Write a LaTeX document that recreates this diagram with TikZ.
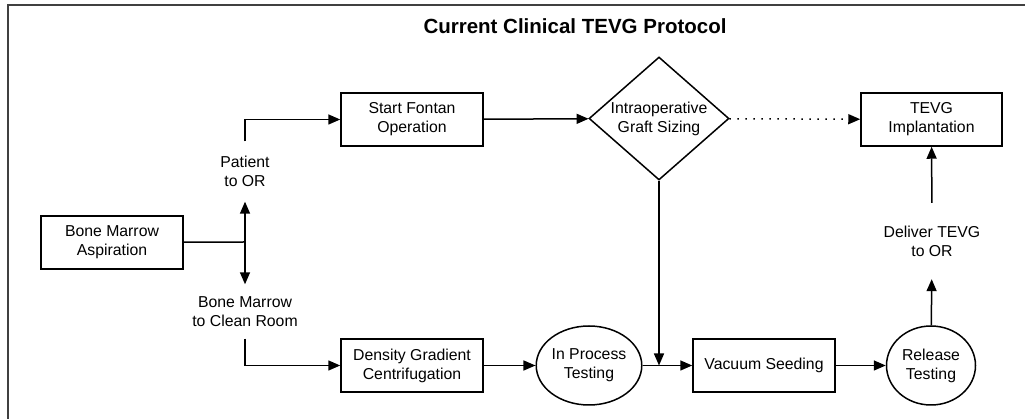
\documentclass[tikz,border=0pt]{standalone}
\usepackage{fontspec}
\setmainfont{Liberation Sans}
\usetikzlibrary{arrows.meta,shapes.geometric}
\begin{document}
\begin{tikzpicture}[x=1pt,y=1pt,
    every node/.style={font=\fontsize{15.8}{19}\selectfont, align=center},
    stepbox/.style={draw, line width=1.5pt, minimum width=142pt, minimum height=53pt, inner sep=0pt},
    testnode/.style={draw, ellipse, line width=1.5pt, minimum width=89pt, minimum height=79pt, inner sep=0pt},
    choice/.style={draw, diamond, aspect=1.14, line width=1.5pt, minimum width=140pt, minimum height=123pt, inner sep=0pt},
    lbl/.style={inner sep=0pt, minimum height=60pt},
    flow/.style={line width=1.5pt, -{Triangle[length=12pt,width=10pt]}}]
  \useasboundingbox (0,0) rectangle (1025,419);
  \draw[line width=1.3pt, black!75] (8,0) -- (8,414) -- (1025,414);
  \node[font=\bfseries\fontsize{20.5}{24}\selectfont] (title) at (575,393) {Current Clinical TEVG Protocol};
  \draw
    (112,176.5) node[stepbox] (aspir) {Bone Marrow\\Aspiration}
    (412,299.5) node[stepbox] (fontan) {Start Fontan\\Operation}
    (659,300.5) node[choice] (sizing) {Intraoperative\\Graft Sizing}
    (931.5,299.5) node[stepbox, minimum width=141pt] (tevg) {TEVG\\Implantation}
    (412,53.5) node[stepbox] (density) {Density Gradient\\Centrifugation}
    (589,53.5) node[testnode] (inproc) {In Process\\Testing}
    (764,53.5) node[stepbox] (vacuum) {Vacuum Seeding}
    (931,53.5) node[testnode] (release) {Release\\Testing}
    (245,247.5) node[lbl] (patient) {Patient\\to OR}
    (245,107.5) node[lbl, minimum height=54pt] (clean) {Bone Marrow\\to Clean Room}
    (932,178) node[lbl, minimum height=76pt] (deliver) {Deliver TEVG\\to OR};
  \coordinate (split) at (245,177);
  \begin{scope}[line width=1.5pt]
    \draw (aspir) -- (split);
    \draw[flow] (split) -- (patient);
    \draw[flow] (split) -- (clean);
    \draw[flow] (patient) |- (fontan);
    \draw[flow] (clean) |- (density);
    \draw[flow] (fontan) -- (sizing);
    \draw[flow, dash pattern=on 1.4pt off 6.6pt] (sizing) -- (tevg);
    \draw[flow] (sizing) -- (sizing |- vacuum.west);
    \draw[flow] (density) -- (inproc);
    \draw[flow] (inproc) -- (vacuum);
    \draw[flow] (vacuum) -- (release);
    \draw[flow] (release) -- (deliver);
    \draw[flow] (deliver) -- (tevg);
  \end{scope}
\end{tikzpicture}
\end{document}
